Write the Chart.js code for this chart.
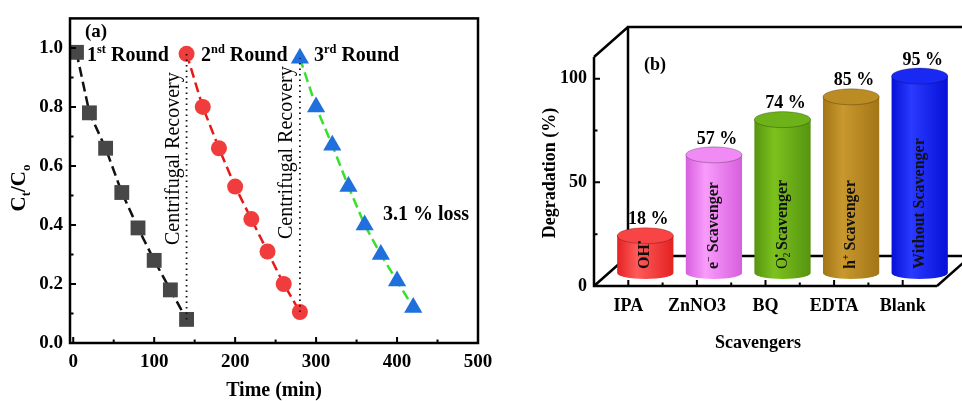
<!DOCTYPE html>
<html>
<head>
<meta charset="utf-8">
<script src="https://cdn.jsdelivr.net/npm/chart.js@4.4.1/dist/chart.umd.min.js"></script>
<style>
  html, body { margin: 0; padding: 0; background: #fff; width: 962px; height: 401px; overflow: hidden; }
  #wa { position: absolute; left: 0; top: 0; width: 515px; height: 401px; }
  #wb { position: absolute; left: 520px; top: 0; width: 442px; height: 401px; }
</style>
</head>
<body>
<div id="wa"><canvas id="cycleChart"></canvas></div>
<div id="wb"><canvas id="scavChart"></canvas></div>
<script>
// panel (a): recycling runs
const time1 = [4, 20, 40, 60, 80, 100, 120, 140];
const round1 = [0.985, 0.78, 0.66, 0.51, 0.39, 0.28, 0.18, 0.08];
const time2 = [140, 160, 180, 200, 220, 240, 260, 280];
const round2 = [0.98, 0.80, 0.66, 0.53, 0.42, 0.31, 0.20, 0.105];
const time3 = [280, 300, 320, 340, 360, 380, 400, 420];
const round3 = [0.965, 0.80, 0.67, 0.53, 0.40, 0.30, 0.21, 0.12];
const recoveryTimes = [140, 280];
const xTicksA = [0, 100, 200, 300, 400, 500];
const xMinorA = [50, 150, 250, 350, 450];
const yTicksA = [0, 0.2, 0.4, 0.6, 0.8, 1.0];
const yMinorA = [0.1, 0.3, 0.5, 0.7, 0.9];

// panel (b): scavenger test
const scavengers = ['IPA', 'ZnNO3', 'BQ', 'EDTA', 'Blank'];
const degradation = [18, 57, 74, 85, 95];
const yTicksB = [0, 50, 100];
const yMinorB = [25, 75];
const barColors = [
  ['#e42222', '#ff5a5a', '#f84444'],
  ['#d85ede', '#f89cfb', '#f08af4'],
  ['#569410', '#7cc21e', '#6cb218'],
  ['#a27516', '#c9982e', '#bb8b24'],
  ['#0610d8', '#2a3aff', '#1a28f4']
];
const innerLabels = [
  [{ t: 'OH' }, { t: '•', sup: true }],
  [{ t: 'e' }, { t: '−', sup: true }, { t: ' Scavenger' }],
  [{ t: 'O', w: 'normal' }, { t: '2', sub: true, w: 'normal', keep: true }, { t: '•', sup: true }, { t: ' Scavenger' }],
  [{ t: 'h' }, { t: '+', sup: true }, { t: ' Scavenger' }],
  [{ t: 'Without Scavenger' }]
];

const serif = "'Liberation Serif', 'Times New Roman', serif";
Chart.defaults.font.family = serif;
Chart.defaults.color = '#000';

const pts = (xs, ys) => xs.map((x, i) => ({ x: x, y: ys[i] }));

// draws text pieces with sup/subscripts, returns width
function rich(ctx, parts, x, y, size, weight, draw) {
  let cx = x;
  let maxX = x;
  for (const p of parts) {
    const s = (p.sup || p.sub) ? size * 0.62 : size;
    ctx.font = (p.w || weight) + ' ' + s + 'px ' + serif;
    const dy = p.sup ? -size * 0.4 : (p.sub ? size * 0.22 : 0);
    if (draw) ctx.fillText(p.t, cx, y + dy);
    const w = ctx.measureText(p.t).width;
    maxX = Math.max(maxX, cx + w);
    if (!p.keep) cx += w;
  }
  return Math.max(cx, maxX) - x;
}

const frameA = {
  id: 'frameA',
  afterDatasetsDraw(chart) {
    const ctx = chart.ctx;
    const a = chart.chartArea;
    const xs = chart.scales.x, ys = chart.scales.y;
    ctx.save();

    // recovery dotted lines
    ctx.strokeStyle = '#111';
    ctx.lineWidth = 1.8;
    ctx.setLineDash([1.5, 4]);
    const spans = [[round1[round1.length - 1], round2[0]], [round2[round2.length - 1], round3[0]]];
    recoveryTimes.forEach((t, i) => {
      ctx.beginPath();
      ctx.moveTo(xs.getPixelForValue(t), ys.getPixelForValue(spans[i][0]));
      ctx.lineTo(xs.getPixelForValue(t), ys.getPixelForValue(spans[i][1]));
      ctx.stroke();
    });
    ctx.setLineDash([]);

    // frame + inward ticks
    ctx.strokeStyle = '#000';
    ctx.lineWidth = 2.5;
    ctx.strokeRect(a.left, a.top, a.right - a.left, a.bottom - a.top);
    ctx.lineWidth = 2;
    ctx.beginPath();
    xTicksA.forEach(v => { const p = xs.getPixelForValue(v); ctx.moveTo(p, a.bottom); ctx.lineTo(p, a.bottom - 6); });
    xMinorA.forEach(v => { const p = xs.getPixelForValue(v); ctx.moveTo(p, a.bottom); ctx.lineTo(p, a.bottom - 3.5); });
    yTicksA.forEach(v => { const p = ys.getPixelForValue(v); ctx.moveTo(a.left, p); ctx.lineTo(a.left + 6, p); });
    yMinorA.forEach(v => { const p = ys.getPixelForValue(v); ctx.moveTo(a.left, p); ctx.lineTo(a.left + 3.5, p); });
    ctx.stroke();

    // annotations
    ctx.fillStyle = '#000';
    ctx.textAlign = 'left';
    ctx.textBaseline = 'alphabetic';
    ctx.font = 'bold 19px ' + serif;
    ctx.fillText('(a)', 85, 37);
    rich(ctx, [{ t: '1' }, { t: 'st', sup: true }, { t: ' Round' }], 87, 61, 20, 'bold', true);
    rich(ctx, [{ t: '2' }, { t: 'nd', sup: true }, { t: ' Round' }], 201, 61, 20, 'bold', true);
    rich(ctx, [{ t: '3' }, { t: 'rd', sup: true }, { t: ' Round' }], 314, 61, 20, 'bold', true);
    ctx.font = 'bold 20px ' + serif;
    ctx.fillText('3.1 % loss', 383, 220);

    const starts = [245, 239];
    recoveryTimes.forEach((t, i) => {
      ctx.save();
      ctx.translate(xs.getPixelForValue(t) - 13, starts[i]);
      ctx.rotate(-Math.PI / 2);
      ctx.font = 'normal 20px ' + serif;
      ctx.textBaseline = 'middle';
      ctx.fillText('Centrifugal Recovery', 0, 0);
      ctx.restore();
    });

    // axis titles
    ctx.font = 'bold 20px ' + serif;
    ctx.textAlign = 'center';
    ctx.fillText('Time (min)', (a.left + a.right) / 2, 396);
    const yt = [{ t: 'C' }, { t: 't', sub: true }, { t: '/C' }, { t: 'o', sub: true }];
    const w = rich(ctx, yt, 0, 0, 21, 'bold', false);
    ctx.save();
    ctx.translate(25, 188);
    ctx.rotate(-Math.PI / 2);
    ctx.textAlign = 'left';
    rich(ctx, yt, -w / 2, 0, 21, 'bold', true);
    ctx.restore();
    ctx.restore();
  }
};

new Chart(document.getElementById('cycleChart'), {
  type: 'line',
  data: {
    datasets: [
      { label: '1st Round', data: pts(time1, round1), borderColor: '#111', borderWidth: 2.5, borderDash: [10, 5],
        pointStyle: 'rect', pointRadius: 10.5, pointBackgroundColor: '#474747', pointBorderColor: '#474747', pointBorderWidth: 0, clip: false },
      { label: '2nd Round', data: pts(time2, round2), borderColor: '#e81818', borderWidth: 2.5, borderDash: [10, 5],
        pointStyle: 'circle', pointRadius: 8, pointBackgroundColor: '#f03c3c', pointBorderColor: '#f03c3c', pointBorderWidth: 0, clip: false },
      { label: '3rd Round', data: pts(time3, round3), borderColor: '#38e02c', borderWidth: 2.5, borderDash: [10, 5],
        pointStyle: 'triangle', pointRadius: 10.5, pointBackgroundColor: '#1f6fdc', pointBorderColor: '#1f6fdc', pointBorderWidth: 0, clip: false }
    ]
  },
  options: {
    responsive: true,
    maintainAspectRatio: false,
    animation: false,
    layout: { padding: { left: 0, right: 37, top: 14, bottom: 0 } },
    plugins: { legend: { display: false }, tooltip: { enabled: false } },
    scales: {
      x: {
        type: 'linear', min: -4, max: 500,
        afterBuildTicks: s => { s.ticks = xTicksA.map(v => ({ value: v })); },
        afterFit: s => { s.height = 58; },
        grid: { display: false, drawTicks: false },
        border: { display: false },
        ticks: { padding: 8, maxRotation: 0, autoSkip: false, font: { size: 19, weight: 'bold' } }
      },
      y: {
        min: 0, max: 1.1,
        afterBuildTicks: s => { s.ticks = yTicksA.map(v => ({ value: v })); },
        afterFit: s => { s.width = 70; },
        grid: { display: false, drawTicks: false },
        border: { display: false },
        ticks: { padding: 7, font: { size: 19, weight: 'bold' }, callback: v => Number(v).toFixed(1) }
      }
    }
  },
  plugins: [frameA]
});

const DX = 34, DY = 30;
const cylinders = {
  id: 'cylinders',
  beforeDatasetsDraw(chart) {
    const ctx = chart.ctx;
    const a = chart.chartArea;
    const ys = chart.scales.y;
    const top = ys.getPixelForValue(110) - 1;
    const W = chart.width;
    ctx.save();
    ctx.strokeStyle = '#000';
    ctx.lineWidth = 2.5;
    ctx.lineJoin = 'miter';
    ctx.beginPath();
    // back wall
    ctx.moveTo(W + 5, top - DY);
    ctx.lineTo(a.left + DX, top - DY);
    ctx.lineTo(a.left + DX, a.bottom - DY);
    ctx.lineTo(W + 5, a.bottom - DY);
    // side edges
    ctx.moveTo(a.left, top);
    ctx.lineTo(a.left + DX, top - DY);
    ctx.moveTo(a.left, a.bottom);
    ctx.lineTo(a.left + DX, a.bottom - DY);
    ctx.moveTo(a.right, a.bottom);
    ctx.lineTo(a.right + DX, a.bottom - DY);
    // front axes
    ctx.moveTo(a.left, top);
    ctx.lineTo(a.left, a.bottom);
    ctx.lineTo(a.right, a.bottom);
    ctx.stroke();

    ctx.lineWidth = 2;
    ctx.beginPath();
    yTicksB.forEach(v => { const p = ys.getPixelForValue(v); ctx.moveTo(a.left, p); ctx.lineTo(a.left + 6, p); });
    yMinorB.forEach(v => { const p = ys.getPixelForValue(v); ctx.moveTo(a.left, p); ctx.lineTo(a.left + 3.5, p); });
    const meta = chart.getDatasetMeta(0);
    meta.data.forEach((el, i) => {
      ctx.moveTo(el.x, a.bottom); ctx.lineTo(el.x, a.bottom - 6);
      if (i > 0) {
        const m = (el.x + meta.data[i - 1].x) / 2;
        ctx.moveTo(m, a.bottom); ctx.lineTo(m, a.bottom - 3.5);
      }
    });
    ctx.stroke();
    ctx.restore();
  },
  afterDatasetsDraw(chart) {
    const ctx = chart.ctx;
    const meta = chart.getDatasetMeta(0);
    ctx.save();
    meta.data.forEach((el, i) => {
      const cx = el.x + DX / 2;
      const rx = el.width / 2;
      const topY = el.y - 13;
      const botY = el.base - 13;
      const ry = 8;
      const c = barColors[i];
      const g = ctx.createLinearGradient(cx - rx, 0, cx + rx, 0);
      g.addColorStop(0, c[0]);
      g.addColorStop(0.35, c[1]);
      g.addColorStop(1, c[0]);
      ctx.beginPath();
      ctx.moveTo(cx - rx, topY);
      ctx.lineTo(cx - rx, botY);
      ctx.ellipse(cx, botY, rx, 6, 0, Math.PI, 0, true);
      ctx.lineTo(cx + rx, topY);
      ctx.closePath();
      ctx.fillStyle = g;
      ctx.fill();
      ctx.beginPath();
      ctx.ellipse(cx, topY, rx, ry, 0, 0, Math.PI * 2);
      ctx.fillStyle = c[2];
      ctx.fill();
      ctx.strokeStyle = 'rgba(0,0,0,0.25)';
      ctx.lineWidth = 1;
      ctx.stroke();

      // inner label
      ctx.save();
      ctx.translate(cx - 2, botY - 4);
      ctx.rotate(-Math.PI / 2);
      ctx.fillStyle = '#111';
      ctx.textAlign = 'left';
      ctx.textBaseline = 'alphabetic';
      rich(ctx, innerLabels[i], 0, 6, 16, 'bold', true);
      ctx.restore();

      // value label
      ctx.fillStyle = '#000';
      ctx.font = 'bold 18px ' + serif;
      ctx.textAlign = 'center';
      ctx.textBaseline = 'middle';
      ctx.fillText(degradation[i] + ' %', cx + 3, topY - 16);
    });

    ctx.fillStyle = '#000';
    ctx.font = 'bold 18px ' + serif;
    ctx.textAlign = 'center';
    ctx.textBaseline = 'middle';
    ctx.fillText('(b)', 655 - 520, 65);
    ctx.fillText('Scavengers', 758 - 520, 343);
    ctx.save();
    ctx.translate(550 - 520, 173);
    ctx.rotate(-Math.PI / 2);
    ctx.fillText('Degradation (%)', 0, 0);
    ctx.restore();
    ctx.restore();
  }
};

new Chart(document.getElementById('scavChart'), {
  type: 'bar',
  data: {
    labels: scavengers,
    datasets: [{ label: 'Degradation', data: degradation, backgroundColor: 'rgba(0,0,0,0)', borderWidth: 0,
      barPercentage: 0.82, categoryPercentage: 1 }]
  },
  options: {
    responsive: true,
    maintainAspectRatio: false,
    animation: false,
    layout: { padding: { left: 0, right: 25, top: 58, bottom: 0 } },
    plugins: { legend: { display: false }, tooltip: { enabled: false } },
    scales: {
      x: {
        afterFit: s => { s.height = 115; },
        grid: { display: false, drawTicks: false },
        border: { display: false },
        ticks: { padding: 10, maxRotation: 0, autoSkip: false, font: { size: 18, weight: 'bold' } }
      },
      y: {
        min: 0, max: 110,
        afterBuildTicks: s => { s.ticks = yTicksB.map(v => ({ value: v })); },
        afterFit: s => { s.width = 74; },
        grid: { display: false, drawTicks: false },
        border: { display: false },
        ticks: { padding: 7, font: { size: 18, weight: 'bold' } }
      }
    }
  },
  plugins: [cylinders]
});
</script>
</body>
</html>
